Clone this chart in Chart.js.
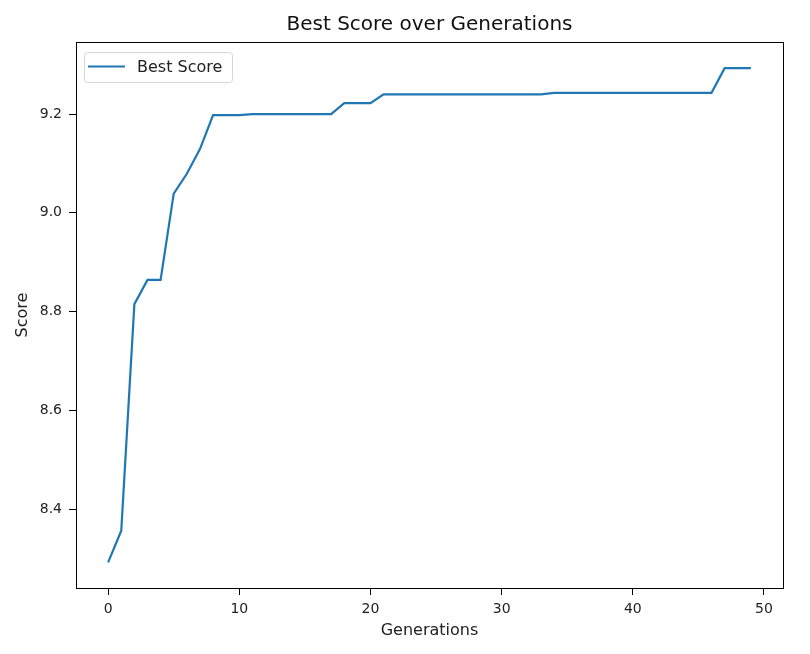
<!DOCTYPE html>
<html>
<head>
<meta charset="utf-8">
<script src="https://cdn.jsdelivr.net/npm/chart.js@4"></script>
<style>
  html, body { margin: 0; padding: 0; background: #fff; }
  #wrap { width: 810px; height: 654px; }
</style>
</head>
<body>
<div id="wrap"><canvas id="c" width="810" height="654"></canvas></div>
<script>
// values
const generations = [];
for (let g = 0; g < 50; g++) generations.push(g);
const bestScore = [
	8.292, 8.356, 8.815, 8.864, 8.864, 9.039, 9.079, 9.129, 9.198, 9.198,
	9.198, 9.200, 9.200, 9.200, 9.200, 9.200, 9.200, 9.200, 9.222, 9.222,
	9.222, 9.240, 9.240, 9.240, 9.240, 9.240, 9.240, 9.240, 9.240, 9.240,
	9.240, 9.240, 9.240, 9.240, 9.243, 9.243, 9.243, 9.243, 9.243, 9.243,
	9.243, 9.243, 9.243, 9.243, 9.243, 9.243, 9.243, 9.293, 9.293, 9.293,
];
const xTicks = [0, 10, 20, 30, 40, 50];
const yTicks = [8.4, 8.6, 8.8, 9.0, 9.2];
const chartTitle = 'Best Score over Generations';

const FONT = 'DejaVu Sans';
const points = generations.map((g, i) => ({ x: g, y: bestScore[i] }));

// box around the plot area, title centred over the axes, legend inside top-left (matplotlib style)
const framePlugin = {
	id: 'frame',
	afterDraw(chart) {
		const { ctx, chartArea: a } = chart;
		ctx.save();
		ctx.strokeStyle = '#000';
		ctx.lineWidth = 1;
		ctx.strokeRect(Math.round(a.left) + 0.5, Math.round(a.top) + 0.5,
			Math.round(a.right - a.left), Math.round(a.bottom - a.top));

		// title
		ctx.fillStyle = '#111';
		ctx.font = '20px ' + FONT;
		ctx.textAlign = 'center';
		ctx.textBaseline = 'middle';
		ctx.fillText(chartTitle, (a.left + a.right) / 2, a.top - 17);

		// legend
		const ds = chart.data.datasets[0];
		const lx = Math.round(a.left) + 8, ly = Math.round(a.top) + 10;
		const w = 148, h = 30;
		ctx.fillStyle = 'rgba(255,255,255,0.8)';
		ctx.strokeStyle = '#d6d6d6';
		ctx.beginPath();
		ctx.roundRect(lx + 0.5, ly + 0.5, w, h, 3);
		ctx.fill();
		ctx.stroke();
		ctx.strokeStyle = ds.borderColor;
		ctx.lineWidth = 2;
		ctx.beginPath();
		ctx.moveTo(lx + 4, ly + 14.5);
		ctx.lineTo(lx + 41, ly + 14.5);
		ctx.stroke();
		ctx.fillStyle = '#222';
		ctx.font = '16px ' + FONT;
		ctx.textAlign = 'left';
		ctx.fillText(ds.label, lx + 53, ly + 15.5);
		ctx.restore();
	},
};

new Chart(document.getElementById('c'), {
	type: 'line',
	data: {
		datasets: [
			{
				label: 'Best Score',
				data: points,
				borderColor: '#1f77b4',
				borderWidth: 2.2,
				pointRadius: 0,
				fill: false,
				tension: 0,
			},
		],
	},
	options: {
		responsive: false,
		animation: false,
		layout: { padding: { left: 0, right: 27, top: 42, bottom: 0 } },
		plugins: {
			legend: { display: false },
			tooltip: { enabled: false },
			title: { display: false },
		},
		scales: {
			x: {
				type: 'linear',
				min: -2.45,
				max: 51.45,
				afterFit: (s) => { s.height = 66; },
				afterBuildTicks: (s) => { s.ticks = xTicks.map((v) => ({ value: v })); },
				grid: { display: true, drawOnChartArea: false, drawTicks: true, tickLength: 7, color: '#000' },
				border: { display: true, color: '#000' },
				ticks: { color: '#222', font: { family: FONT, size: 14 }, padding: 6, maxRotation: 0 },
				title: { display: true, text: 'Generations', color: '#222', font: { family: FONT, size: 16 }, padding: { top: 2, bottom: 14 } },
			},
			y: {
				type: 'linear',
				min: 8.24,
				max: 9.346,
				afterFit: (s) => { s.width = 76; },
				afterBuildTicks: (s) => { s.ticks = yTicks.map((v) => ({ value: v })); },
				grid: { display: true, drawOnChartArea: false, drawTicks: true, tickLength: 7, color: '#000' },
				border: { display: true, color: '#000' },
				ticks: { color: '#222', font: { family: FONT, size: 14 }, padding: 7, callback: (v) => v.toFixed(1) },
				title: { display: true, text: 'Score', color: '#222', font: { family: FONT, size: 16 }, padding: { top: 13, bottom: 2 } },
			},
		},
	},
	plugins: [framePlugin],
});
</script>
</body>
</html>
